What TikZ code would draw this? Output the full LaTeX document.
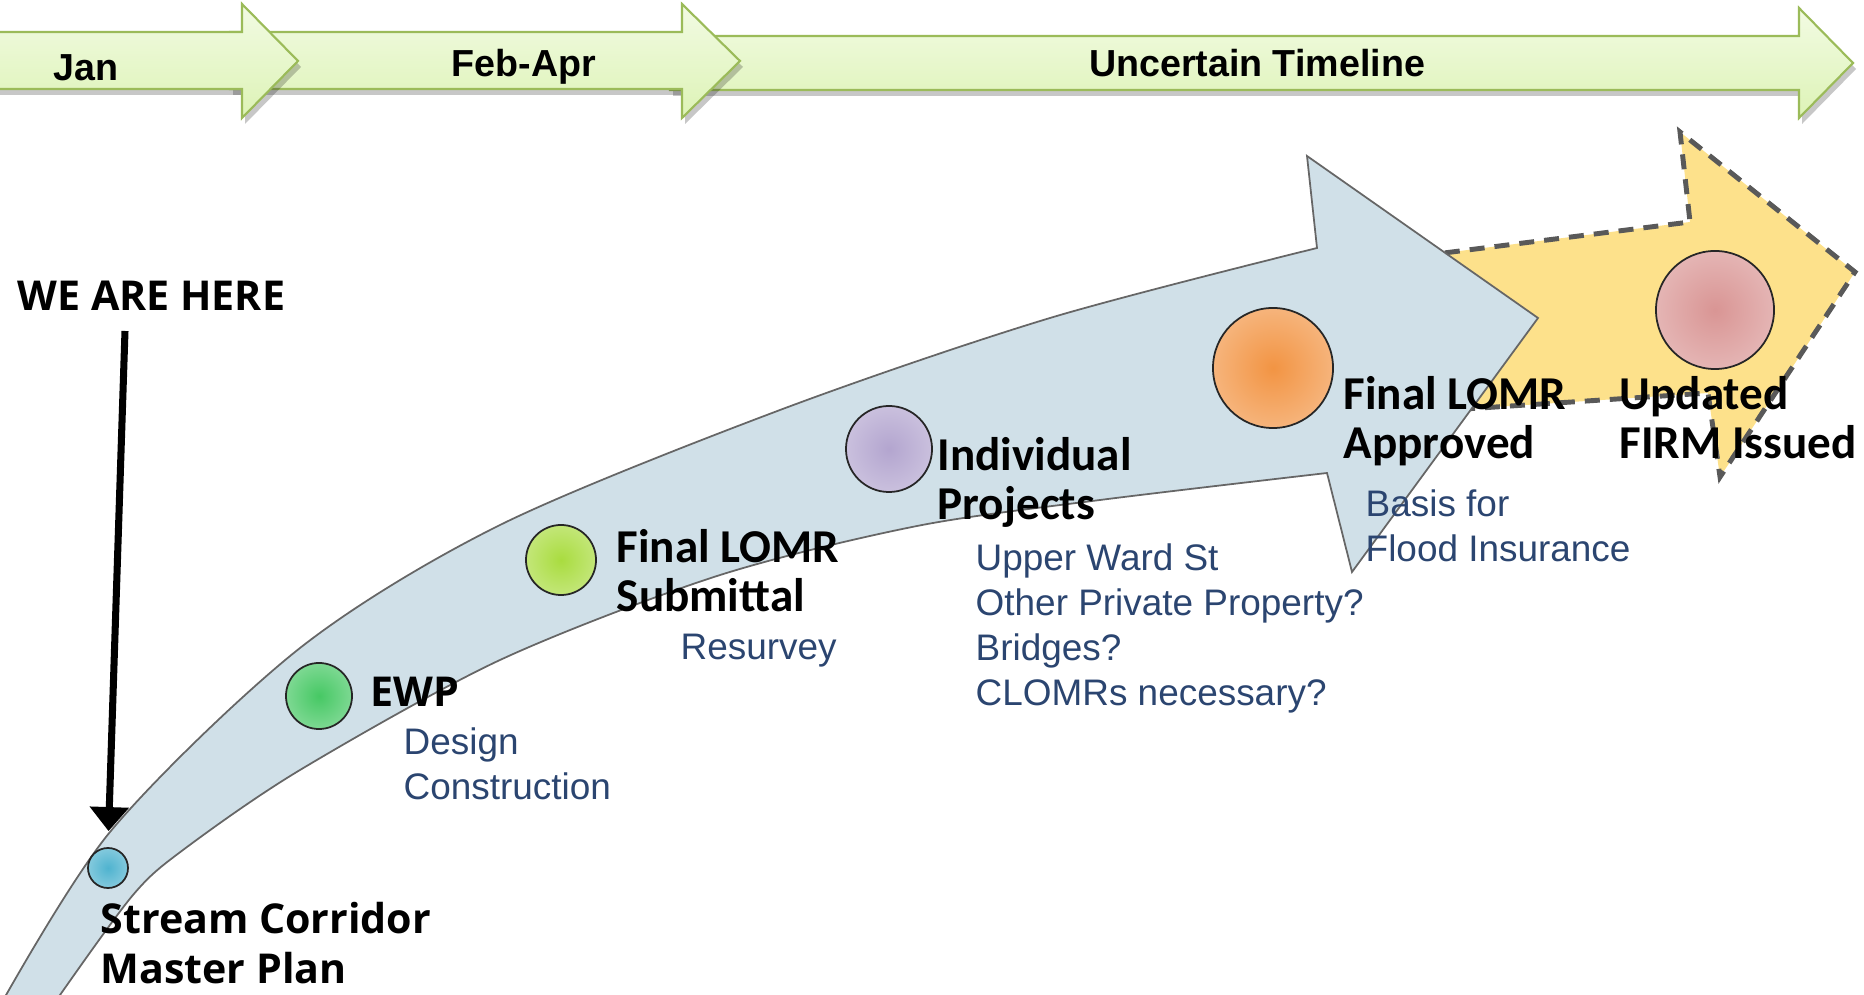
\documentclass[tikz,border=0pt]{standalone}
\usepackage{fontspec}
\setmainfont{Liberation Sans}
\newfontfamily\calibri{Carlito}
\newfontfamily\opensans{Open Sans}
\usetikzlibrary{arrows.meta}

\definecolor{tabedge}{HTML}{9BBB59}
\definecolor{tabtop}{HTML}{F2FBE3}
\definecolor{tabbot}{HTML}{DDF3B6}
\definecolor{bandfill}{HTML}{D0E0E8}
\definecolor{nextfill}{HTML}{FDE18B}
\definecolor{subblue}{HTML}{2B4570}
\definecolor{dotblue}{HTML}{4FB3CF}
\definecolor{dotgreen}{HTML}{46C864}
\definecolor{dotlime}{HTML}{A9DC3F}
\definecolor{dotlilac}{HTML}{B3A5CF}
\definecolor{dotorange}{HTML}{F29443}
\definecolor{dotrose}{HTML}{D99594}

\begin{document}
\begin{tikzpicture}[x=0.01cm,y=-0.01cm,
    tab/.style={draw=tabedge, line width=0.6pt, top color=tabtop, bottom color=tabbot},
    tabshadow/.style={fill=black, opacity=0.22, shift={(3,6)}},
    tabl/.style={anchor=base, inner sep=0pt, font=\bfseries\fontsize{10.7}{12}\selectfont},
    bigl/.style={anchor=base west, inner sep=0pt, align=left, font=\calibri\bfseries\fontsize{13.4}{14.2}\selectfont},
    bigo/.style={anchor=base west, inner sep=0pt, align=left, font=\opensans\bfseries\fontsize{11.7}{14.2}\selectfont},
    subl/.style={anchor=base west, inner sep=0pt, align=left, text=subblue, font=\fontsize{10.5}{12.8}\selectfont},
    ball/.style 2 args={circle, inner sep=0pt, minimum size=#1, draw=black!85, line width=0.5pt, inner color=#2, outer color=#2!70!white},
    herearrow/.style={line width=2pt, -{Triangle[width=0.38cm,length=0.24cm]}, shorten >=0.16cm}]
  \useasboundingbox (0,0) rectangle (1864,995);
  \clip (0,0) rectangle (1864,995);

  % months on top
  \def\tabone{(-10,32) -- (242,32) -- (242,4) -- (298,61) -- (242,118) -- (242,89) -- (-10,89) -- cycle}
  \def\tabtwo{(230,32) -- (682,32) -- (682,4) -- (740,61) -- (682,118) -- (682,89) -- (230,89) -- cycle}
  \def\tabthree{(670,36) -- (1799,36) -- (1799,8) -- (1853,63) -- (1799,118) -- (1799,90) -- (670,90) -- cycle}
  \fill[tabshadow] \tabthree;
  \draw[tab] \tabthree;
  \fill[tabshadow] \tabtwo;
  \draw[tab] \tabtwo;
  \fill[tabshadow] \tabone;
  \draw[tab] \tabone;
  \node[tabl] (jan) at (86,81) {Jan};
  \node[tabl] (febapr) at (524,77) {Feb-Apr};
  \node[tabl] (uncert) at (1257,77) {Uncertain Timeline};

  % dashed arrow behind the big one
  \draw[fill=nextfill, draw=black!65, line width=1.4pt, dash pattern=on 0.15cm off 0.1cm]
    (1420,256) -- (1690,222) -- (1680,132) -- (1855,272) -- (1720,477) -- (1708,393) -- (1450,410) -- cycle;

  % the big curved arrow
  \draw[fill=bandfill, draw=black!60, line width=0.5pt]
    plot[smooth] coordinates {(-8,1020) (110,832) (300,648) (500,525) (780,410) (1050,318) (1317,248)}
    -- (1307,156) -- (1538,318) -- (1352,572) -- (1327,473)
    -- plot[smooth] coordinates {(1327,473) (1100,500) (917,526) (717,576) (500,660) (300,770) (183,850) (133,895) (60,995) (45,1020)}
    -- cycle;

  % milestones
  \node[ball={0.40cm}{dotblue}] (d0) at (108,868) {};
  \node[ball={0.66cm}{dotgreen}] (d1) at (319,696) {};
  \node[ball={0.70cm}{dotlime}] (d2) at (561,560) {};
  \node[ball={0.86cm}{dotlilac}] (d3) at (889,449) {};
  \node[ball={1.20cm}{dotorange}] (d4) at (1273,368) {};
  \node[ball={1.18cm}{dotrose}] (d5) at (1715,310) {};

  \node[bigo] (here) at (17,311) {WE ARE HERE};
  \coordinate (herefrom) at (125,331);
  \draw[herearrow] (herefrom) -- (d0.north);

  % multi-line labels sit on the baseline of their last line
  \node[bigo] (scmp) at (100,983) {Stream Corridor\\Master Plan};
  \node[bigo] (ewp) at (370,707) {EWP};
  \node[subl] (ewpsub) at (403,800) {Design\\Construction};
  \node[bigl] (lomrsub) at (616,612) {Final LOMR\\Submittal};
  \node[subl] (resurvey) at (680,660) {Resurvey};
  \node[bigl] (indiv) at (937,520) {Individual\\Projects};
  \node[subl] (indivsub) at (975,706) {Upper Ward St\\Other Private Property?\\Bridges?\\CLOMRs necessary?};
  \node[bigl] (lomrapp) at (1343,459) {Final LOMR\\Approved};
  \node[subl] (basis) at (1365,562) {Basis for\\Flood Insurance};
  \node[bigl] (firm) at (1619,459) {Updated\\FIRM Issued};
\end{tikzpicture}
\end{document}
